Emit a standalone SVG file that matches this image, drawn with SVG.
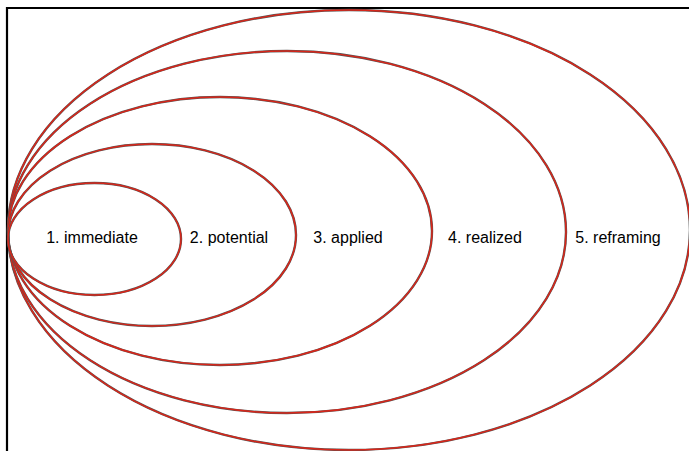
<svg xmlns="http://www.w3.org/2000/svg" width="689" height="451" viewBox="0 0 689 451">
<style>
.sh{fill:none;stroke:#555;stroke-width:2.4}
.rd{fill:none;stroke:#d8261a;stroke-width:1.5}
.lb{font-family:"Liberation Sans",Arial,sans-serif;font-size:16px;fill:#000;text-anchor:middle;dominant-baseline:central}
</style>
<rect width="689" height="451" fill="#fff"/>
<path d="M7 451 V8 H689" fill="none" stroke="#000" stroke-width="2.2"/>
<g id="e5"><ellipse class="sh" cx="349" cy="230" rx="341" ry="220"/><ellipse class="rd" cx="349" cy="230" rx="341" ry="220"/><text class="lb" x="618" y="237">5. reframing</text></g>
<g id="e4"><ellipse class="sh" cx="287" cy="232" rx="279" ry="181"/><ellipse class="rd" cx="287" cy="232" rx="279" ry="181"/><text class="lb" x="485" y="237">4. realized</text></g>
<g id="e3"><ellipse class="sh" cx="220" cy="231" rx="212" ry="134"/><ellipse class="rd" cx="220" cy="231" rx="212" ry="134"/><text class="lb" x="348" y="237">3. applied</text></g>
<g id="e2"><ellipse class="sh" cx="152" cy="235" rx="144" ry="91"/><ellipse class="rd" cx="152" cy="235" rx="144" ry="91"/><text class="lb" x="229" y="237">2. potential</text></g>
<g id="e1"><ellipse class="sh" cx="94.5" cy="239" rx="86.5" ry="56"/><ellipse class="rd" cx="94.5" cy="239" rx="86.5" ry="56"/><text class="lb" x="92" y="237">1. immediate</text></g>
</svg>
